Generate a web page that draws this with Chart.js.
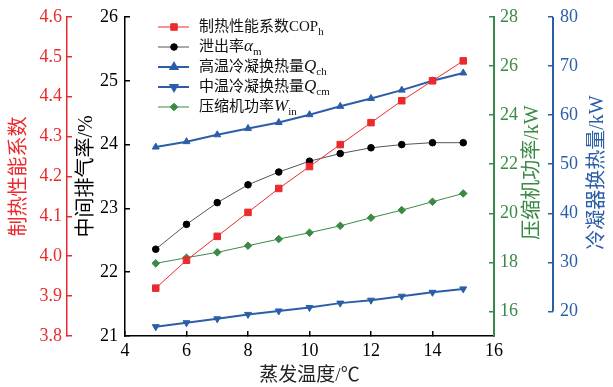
<!DOCTYPE html>
<html>
<head>
    <meta charset="utf-8" />
    <title>蒸发温度对系统性能的影响</title>
    <script src="https://cdn.jsdelivr.net/npm/chart.js@4.4.1/dist/chart.umd.min.js"></script>
    <style>
        body {
            margin: 0;
            background: #fff;
        }
    </style>
</head>

<body>
    <canvas id="chartCanvas" width="613" height="387"></canvas>

<script>
    // evaporating temperature, degC
    var evapTemp = [5, 6, 7, 8, 9, 10, 11, 12, 13, 14, 15];
    // heating COP
    var copH = [3.92, 3.99, 4.05, 4.11, 4.17, 4.225, 4.28, 4.335, 4.39, 4.44, 4.49];
    // intermediate discharge ratio, %
    var alphaM = [22.36, 22.75, 23.09, 23.37, 23.57, 23.74, 23.86, 23.95, 24.0, 24.03, 24.03];
    // high / medium temperature condenser heat, kW
    var qCh = [53.5, 54.6, 56.0, 57.3, 58.5, 60.1, 61.8, 63.4, 65.1, 67.0, 68.6];
    var qCm = [16.9, 17.7, 18.5, 19.4, 20.1, 20.8, 21.7, 22.3, 23.1, 23.9, 24.6];
    // compressor power, kW
    var wIn = [17.96, 18.19, 18.41, 18.68, 18.95, 19.21, 19.49, 19.82, 20.13, 20.47, 20.81];

    var xTicks = [4, 6, 8, 10, 12, 14, 16];
    var rateTicks = [21, 22, 23, 24, 25, 26];
    var copTicks = [3.8, 3.9, 4.0, 4.1, 4.2, 4.3, 4.4, 4.5, 4.6];
    var powerTicks = [16, 18, 20, 22, 24, 26, 28];
    var heatTicks = [20, 30, 40, 50, 60, 70, 80];

    var RED = '#ec2a2d';
    var BLUE = '#2c5ea8';
    var GREEN = '#3a8a45';
    var SERIF = '"Liberation Serif", "Noto Sans CJK SC", serif';

    function pairs(ys) {
        return evapTemp.map(function (x, i) { return { x: x, y: ys[i] }; });
    }
    function fixedTicks(list) {
        return function (scale) { scale.ticks = list.map(function (v) { return { value: v }; }); };
    }
    // fixed box size, and no extra label overhang padding so the plot area stays put
    function fixSize(w, h) {
        return function (scale) {
            if (w) scale.width = w;
            if (h) scale.height = h;
            scale.paddingTop = 0;
            scale.paddingBottom = 0;
            scale.paddingLeft = 0;
            scale.paddingRight = 0;
        };
    }

    var tickFont = { family: SERIF, size: 18 };
    var titleFont = { family: SERIF, size: 20 };

    // legend rows: marker + text parts (n = normal, i = italic, s = subscript)
    var legendRows = [
        { color: RED, line: RED, lw: 1, style: 'rect', r: 4.6, rot: 0, parts: [['制热性能系数COP', 'n'], ['h', 's']] },
        { color: '#000', line: '#555', lw: 1, style: 'circle', r: 3.3, rot: 0, parts: [['泄出率', 'n'], ['α', 'i'], ['m', 's']] },
        { color: BLUE, line: BLUE, lw: 2, style: 'triangle', r: 4, rot: 0, parts: [['高温冷凝换热量', 'n'], ['Q', 'i'], ['ch', 's']] },
        { color: BLUE, line: BLUE, lw: 2, style: 'triangle', r: 4, rot: 180, parts: [['中温冷凝换热量', 'n'], ['Q', 'i'], ['cm', 's']] },
        { color: GREEN, line: GREEN, lw: 1, style: 'rectRot', r: 3.8, rot: 0, parts: [['压缩机功率', 'n'], ['W', 'i'], ['in', 's']] }
    ];

    var legendPlugin = {
        id: 'seriesLegend',
        afterDraw: function (chart) {
            var ctx = chart.ctx;
            var area = chart.chartArea;
            var x0 = area.left + 33, y0 = area.top + 10, rowH = 20;
            ctx.save();
            legendRows.forEach(function (row, i) {
                var y = y0 + i * rowH;
                ctx.strokeStyle = row.line;
                ctx.lineWidth = row.lw;
                ctx.beginPath();
                ctx.moveTo(x0, y);
                ctx.lineTo(x0 + 31, y);
                ctx.stroke();
                ctx.fillStyle = row.color;
                ctx.strokeStyle = row.color;
                Chart.helpers.drawPoint(ctx, { pointStyle: row.style, radius: row.r, rotation: row.rot, borderWidth: 1 }, x0 + 16, y);
                var tx = x0 + 41;
                ctx.fillStyle = '#111';
                ctx.textBaseline = 'middle';
                ctx.textAlign = 'left';
                row.parts.forEach(function (p) {
                    var dy = 0;
                    if (p[1] === 'n') ctx.font = '15px ' + SERIF;
                    else if (p[1] === 'i') ctx.font = 'italic 17px "Liberation Serif", serif';
                    else { ctx.font = '11px "Liberation Serif", serif'; dy = 5; }
                    ctx.fillText(p[0], tx, y + dy);
                    tx += ctx.measureText(p[0]).width;
                });
            });
            ctx.restore();
        }
    };

    // right-hand axis titles read bottom-to-top, and the heat axis line stops at its lowest tick
    var rightAxisPlugin = {
        id: 'rightAxisDecor',
        afterDraw: function (chart) {
            var ctx = chart.ctx;
            var sp = chart.scales.yPower, sh = chart.scales.yHeat;
            var mid = (chart.chartArea.top + chart.chartArea.bottom) / 2 - 4;
            ctx.save();
            ctx.strokeStyle = BLUE;
            ctx.lineWidth = 2;
            ctx.beginPath();
            ctx.moveTo(sh.left, sh.getPixelForValue(heatTicks[0]));
            ctx.lineTo(sh.left, sh.getPixelForValue(heatTicks[heatTicks.length - 1]));
            ctx.stroke();
            ctx.font = '20px ' + SERIF;
            ctx.textAlign = 'center';
            ctx.textBaseline = 'middle';
            [[sp, '压缩机功率/kW', GREEN, 20], [sh, '冷凝器换热量/kW', BLUE, 15]].forEach(function (t) {
                ctx.save();
                ctx.translate(t[0].right - t[3], mid);
                ctx.rotate(-Math.PI / 2);
                ctx.fillStyle = t[2];
                ctx.fillText(t[1], 0, 0);
                ctx.restore();
            });
            ctx.restore();
        }
    };

    function yAxis(opts) {
        return {
            type: 'linear',
            position: opts.position,
            min: opts.min,
            max: opts.max,
            afterBuildTicks: fixedTicks(opts.ticks),
            afterFit: fixSize(opts.width, 0),
            ticks: {
                font: tickFont,
                color: opts.color,
                padding: opts.padding,
                callback: opts.fmt || function (v) { return v; }
            },
            grid: { drawOnChartArea: false, tickLength: -5, color: opts.color, lineWidth: 1.5 },
            border: { display: opts.border !== false, color: opts.color, width: opts.bw || 1.5 },
            title: opts.title ? {
                display: true,
                text: opts.title,
                color: opts.color,
                font: titleFont,
                padding: { top: opts.tpad, bottom: 0 }
            } : { display: false }
        };
    }

    var ctx_1 = document.getElementById('chartCanvas').getContext('2d');
    var chart1 = new Chart(ctx_1, {
        type: 'line',
        data: {
            datasets: [{
                data: pairs(copH), yAxisID: 'yCop',
                borderColor: RED, backgroundColor: RED, borderWidth: 1,
                pointStyle: 'rect', pointRadius: 4.6, pointBorderWidth: 1
            }, {
                data: pairs(alphaM), yAxisID: 'y',
                borderColor: '#555', backgroundColor: '#000', pointBorderColor: '#000', borderWidth: 1,
                pointStyle: 'circle', pointRadius: 3.3
            }, {
                data: pairs(qCh), yAxisID: 'yHeat',
                borderColor: BLUE, backgroundColor: BLUE, borderWidth: 2,
                pointStyle: 'triangle', pointRadius: 4, pointBorderWidth: 1
            }, {
                data: pairs(qCm), yAxisID: 'yHeat',
                borderColor: BLUE, backgroundColor: BLUE, borderWidth: 2,
                pointStyle: 'triangle', pointRotation: 180, pointRadius: 4, pointBorderWidth: 1
            }, {
                data: pairs(wIn), yAxisID: 'yPower',
                borderColor: GREEN, backgroundColor: GREEN, borderWidth: 1,
                pointStyle: 'rectRot', pointRadius: 3.8, pointBorderWidth: 1
            }]
        },
        options: {
            responsive: false,
            animation: false,
            layout: { padding: { top: 17, left: 0, right: 0, bottom: 0 } },
            plugins: { legend: { display: false }, tooltip: { enabled: false } },
            elements: { line: { tension: 0, fill: false } },
            scales: {
                x: {
                    type: 'linear',
                    position: 'bottom',
                    min: 4,
                    max: 16,
                    afterBuildTicks: fixedTicks(xTicks),
                    afterFit: fixSize(0, 51),
                    ticks: { font: tickFont, color: '#000', padding: 9 },
                    grid: { drawOnChartArea: false, tickLength: -5, color: '#000', lineWidth: 1.5 },
                    border: { color: '#000', width: 1.5 },
                    title: { display: true, text: '蒸发温度/℃', color: '#222', font: { family: SERIF, size: 19 }, padding: { top: 0, bottom: 0 } }
                },
                y: yAxis({ position: 'left', min: 21, max: 26, ticks: rateTicks, width: 58, color: '#000', padding: 12, title: '中间排气率/%', tpad: 8 }),
                yCop: yAxis({ position: 'left', min: 3.8, max: 4.6, ticks: copTicks, width: 67, color: RED, padding: 10, title: '制热性能系数', tpad: 8,
                    fmt: function (v) { return v.toFixed(1); } }),
                yPower: yAxis({ position: 'right', min: 15, max: 28, ticks: powerTicks, width: 59, color: GREEN, padding: 11, bw: 2 }),
                yHeat: yAxis({ position: 'right', min: 15, max: 80, ticks: heatTicks, width: 60, color: BLUE, padding: 12, border: false })
            }
        },
        plugins: [legendPlugin, rightAxisPlugin]
    });
</script>
</body>
</html>
